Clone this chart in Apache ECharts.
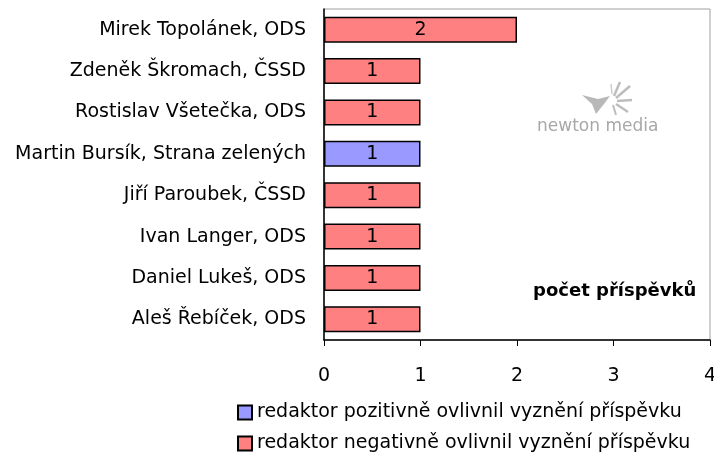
<!DOCTYPE html>
<html>
<head>
<meta charset="utf-8">
<script src="https://cdn.jsdelivr.net/npm/echarts@6/dist/echarts.min.js"></script>
<style>
html,body{margin:0;padding:0;background:#fff;}
#main{width:714px;height:453px;}
</style>
</head>
<body>
<div id="main"></div>
<script>
// kategorie (shora dolu)
var names = ['Mirek Topolánek, ODS', 'Zdeněk Škromach, ČSSD', 'Rostislav Všetečka, ODS', 'Martin Bursík, Strana zelených',
	'Jiří Paroubek, ČSSD', 'Ivan Langer, ODS', 'Daniel Lukeš, ODS', 'Aleš Řebíček, ODS'];
// pozitivne / negativne ovlivnene prispevky
var positive = ['-', '-', '-', 1, '-', '-', '-', '-'];
var negative = [2, 1, 1, '-', 1, 1, 1, 1];
var xTicks = [0, 1, 2, 3, 4];
var legendNames = ['redaktor pozitivně ovlivnil vyznění příspěvku', 'redaktor negativně ovlivnil vyznění příspěvku'];

var font = 'DejaVu Sans';
var fs = 19;
var myChart = echarts.init(document.getElementById('main'));

function barSeries(name, data, color){
	return {
		name: name,
		type: 'bar',
		stack: 'pocet',
		data: data,
		barWidth: 26,
		itemStyle: {color: color, borderColor: '#000', borderWidth: 1.5},
		label: {show: true, position: 'inside', color: '#000', fontFamily: font, fontSize: fs},
		silent: true
	};
}
// legenda - kazda polozka zvlast, pod sebou
function legendItem(name, top){
	return {
		left: 232, top: top,
		itemWidth: 14, itemHeight: 14, itemGap: 0,
		icon: 'rect',
		data: [name],
		textStyle: {fontFamily: font, fontSize: fs, color: '#000'}
	};
}

var option = {
	animation: false,
	textStyle: {fontFamily: font},
	grid: {
		left: 324, right: 4, top: 9, bottom: 113,
		show: true, borderColor: '#a0a0a0', borderWidth: 1,
		outerBoundsMode: 'none'
	},
	legend: [legendItem(legendNames[0], 398), legendItem(legendNames[1], 429)],
	xAxis: {
		type: 'value',
		min: xTicks[0], max: xTicks[xTicks.length - 1], interval: 1,
		axisLine: {show: true, lineStyle: {color: '#000', width: 1.5}},
		axisTick: {show: true, length: 6, lineStyle: {color: '#000'}},
		axisLabel: {fontFamily: font, fontSize: fs, color: '#000', margin: 27},
		splitLine: {show: false}
	},
	yAxis: {
		type: 'category',
		inverse: true,
		data: names,
		axisLine: {show: true, lineStyle: {color: '#000', width: 1.5}},
		axisTick: {show: false},
		axisLabel: {fontFamily: font, fontSize: fs, color: '#000', margin: 18}
	},
	graphic: [
		{type: 'text', left: 533, top: 282,
			style: {text: 'počet příspěvků', font: 'bold 18px "DejaVu Sans"', fill: '#000'}},
		// logo newton media
		{type: 'text', left: 537, top: 118,
			style: {text: 'newton media', font: '17px "DejaVu Sans"', fill: '#a8a8a8'}},
		{type: 'polygon', shape: {points: [[582, 95], [598, 99], [610, 96], [604, 104], [596, 114], [592, 104]]},
			style: {fill: '#b8b8b8'}},
		{type: 'line', shape: {x1: 614, y1: 96, x2: 620, y2: 82}, style: {stroke: '#bdbdbd', lineWidth: 2.5}},
		{type: 'line', shape: {x1: 616, y1: 98, x2: 630, y2: 86}, style: {stroke: '#bdbdbd', lineWidth: 2.5}},
		{type: 'line', shape: {x1: 617, y1: 101, x2: 632, y2: 100}, style: {stroke: '#bdbdbd', lineWidth: 2.5}},
		{type: 'line', shape: {x1: 616, y1: 104, x2: 628, y2: 112}, style: {stroke: '#bdbdbd', lineWidth: 2.5}},
		{type: 'line', shape: {x1: 613, y1: 105, x2: 616, y2: 115}, style: {stroke: '#bdbdbd', lineWidth: 2}},
		{type: 'line', shape: {x1: 612, y1: 94, x2: 611, y2: 84}, style: {stroke: '#cccccc', lineWidth: 1.5}}
	],
	series: [
		barSeries(legendNames[0], positive, '#9999FF'),
		barSeries(legendNames[1], negative, '#FF8080')
	]
};
myChart.setOption(option);
</script>
</body>
</html>
